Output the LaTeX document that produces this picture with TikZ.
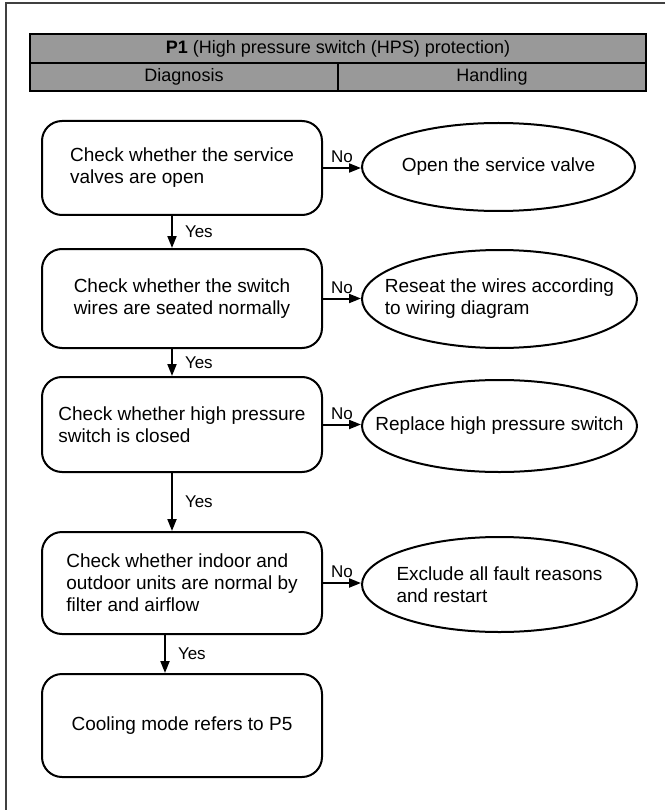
\documentclass[tikz,border=0pt]{standalone}
\usepackage{fontspec}
\setmainfont{Liberation Sans}
\usetikzlibrary{shapes.geometric,arrows.meta}
\definecolor{hdrgray}{RGB}{153,153,153}
\begin{document}
\begin{tikzpicture}[x=1pt,y=-1pt,
 box/.style={draw,line width=2pt,rounded corners=20pt,minimum width=280pt,inner sep=0pt,align=left,font=\fontsize{19}{22}\selectfont},
 oval/.style={draw,line width=2pt,ellipse,inner xsep=-40pt,inner ysep=0pt,align=left,font=\fontsize{19}{22}\selectfont},
 hdr/.style={draw,line width=1.8pt,fill=hdrgray,inner sep=0pt,font=\fontsize{18}{20}\selectfont},
 arr/.style={line width=2pt,-{Triangle[length=12pt,width=9pt]}},
 lbl/.style={font=\fontsize{17}{20}\selectfont,inner sep=0pt}
]
\useasboundingbox (0,0) rectangle (665,810);
\draw[line width=1.2pt, black!75] (665,3) -- (6,3) -- (6,810);

\node[hdr, minimum width=616pt, minimum height=29pt] (title) at (338,48.5) {\textbf{P1} (High pressure switch (HPS) protection)};
\node[hdr, minimum width=308pt, minimum height=28pt] (diag) at (184,77) {Diagnosis};
\node[hdr, minimum width=308pt, minimum height=28pt] (hand) at (492,77) {Handling};

\node[box, minimum height=94pt] (b1) at (182,168) {Check whether the service\\valves are open};
\node[box, minimum height=99pt] (b2) at (182,298.5) {Check whether the switch\\wires are seated normally};
\node[box, minimum height=95pt] (b3) at (182,424.5) {Check whether high pressure\\switch is closed};
\node[box, minimum height=102pt] (b4) at (182,583) {Check whether indoor and\\outdoor units are normal by\\filter and airflow};
\node[box, minimum height=103pt] (b5) at (182,725.5) {Cooling mode refers to P5};

\node[oval, minimum width=273pt, minimum height=88pt] (e1) at (498.5,167) {Open the service valve};
\node[oval, minimum width=275pt, minimum height=98pt] (e2) at (499.5,299) {Reseat the wires according\\to wiring diagram};
\node[oval, minimum width=275pt, minimum height=92pt] (e3) at (499.5,426) {Replace high pressure switch};
\node[oval, minimum width=275pt, minimum height=95pt] (e4) at (499.5,584.5) {Exclude all fault reasons\\and restart};

\draw[arr] ([xshift=-10pt]b1.south) -- ([xshift=-10pt]b2.north) node[lbl,midway,anchor=west,xshift=12pt] {Yes};
\draw[arr] ([xshift=-10pt]b2.south) -- ([xshift=-10pt]b3.north) node[lbl,midway,anchor=west,xshift=12pt] {Yes};
\draw[arr] ([xshift=-10pt]b3.south) -- ([xshift=-10pt]b4.north) node[lbl,midway,anchor=west,xshift=12pt] {Yes};
\draw[arr] ([xshift=-17pt]b4.south) -- ([xshift=-17pt]b5.north) node[lbl,midway,anchor=west,xshift=12pt] {Yes};

\draw[arr] (b1.east) -- (b1.east -| e1.west) node[lbl,midway,anchor=south,yshift=4pt] {No};
\draw[arr] (b2.east) -- (b2.east -| e2.west) node[lbl,midway,anchor=south,yshift=4pt] {No};
\draw[arr] (b3.east) -- (b3.east -| e3.west) node[lbl,midway,anchor=south,yshift=4pt] {No};
\draw[arr] (b4.east) -- (b4.east -| e4.west) node[lbl,midway,anchor=south,yshift=4pt] {No};
\end{tikzpicture}
\end{document}
